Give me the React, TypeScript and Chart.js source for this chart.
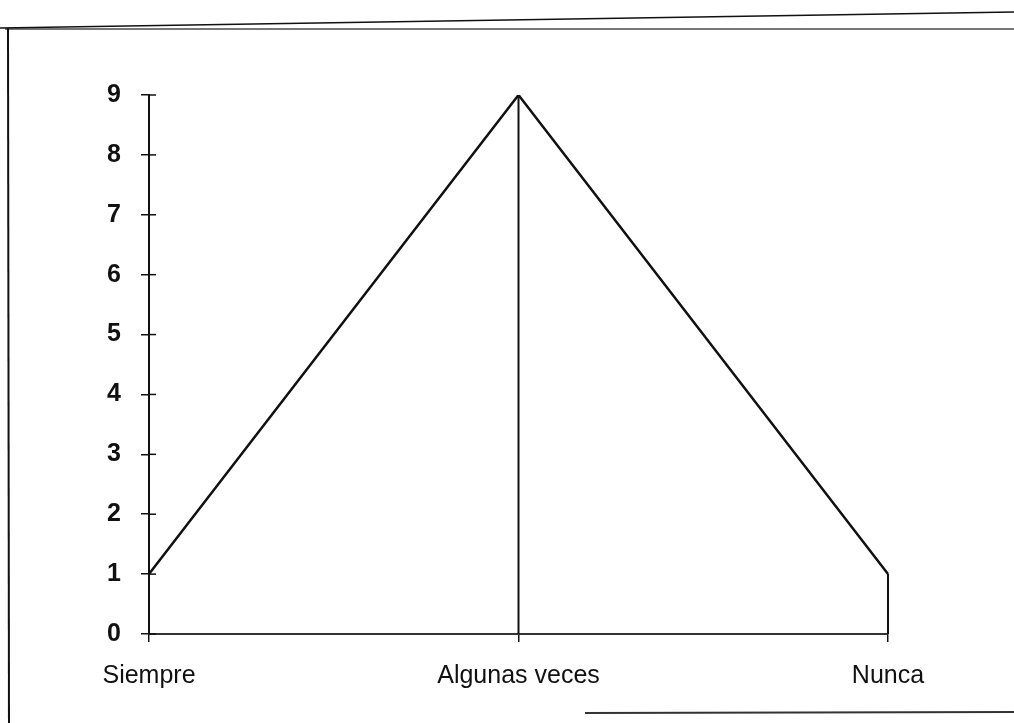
import React, { useEffect, useRef } from "react";
import { Chart, registerables } from "chart.js";

Chart.register(...registerables);

const categories = ["Siempre", "Algunas veces", "Nunca"];
const values = [1, 9, 1];
const yTicks = [0, 1, 2, 3, 4, 5, 6, 7, 8, 9];

const INK = "#111111";

const dropLines = {
  id: "dropLines",
  afterDatasetsDraw(chart: any) {
    const { ctx, chartArea, scales } = chart;
    const meta = chart.getDatasetMeta(0);
    ctx.save();
    ctx.strokeStyle = INK;
    ctx.lineWidth = 2;
    meta.data.forEach((pt: any) => {
      ctx.beginPath();
      ctx.moveTo(pt.x, pt.y);
      ctx.lineTo(pt.x, chartArea.bottom);
      ctx.stroke();
    });
    // inner halves of y ticks (ticks cross the axis)
    const y = scales.y;
    ctx.lineWidth = 1.5;
    yTicks.forEach((v) => {
      const py = y.getPixelForValue(v);
      ctx.beginPath();
      ctx.moveTo(chartArea.left, py);
      ctx.lineTo(chartArea.left + 7, py);
      ctx.stroke();
    });
    ctx.restore();
  },
};

const frame = {
  id: "frame",
  beforeDraw(chart: any) {
    const { ctx, width, height } = chart;
    ctx.save();
    ctx.fillStyle = "#ffffff";
    ctx.fillRect(0, 0, width, height);
    ctx.strokeStyle = "#777777";
    ctx.lineWidth = 2;
    ctx.beginPath();
    ctx.moveTo(5, 29);
    ctx.lineTo(width, 29);
    ctx.stroke();
    ctx.strokeStyle = INK;
    ctx.lineWidth = 1.5;
    ctx.beginPath();
    ctx.moveTo(0, 28);
    ctx.lineTo(width, 12);
    ctx.stroke();
    ctx.lineWidth = 2;
    ctx.beginPath();
    ctx.moveTo(8, 28);
    ctx.lineTo(9, height);
    ctx.stroke();
    ctx.strokeStyle = "#333333";
    ctx.beginPath();
    ctx.moveTo(585, 713);
    ctx.lineTo(width, 712);
    ctx.stroke();
    ctx.restore();
  },
};

export default function App() {
  const ref = useRef<HTMLCanvasElement | null>(null);
  useEffect(() => {
    if (!ref.current) return;
    const chart = new Chart(ref.current, {
      type: "line",
      data: {
        labels: categories,
        datasets: [
          {
            data: values,
            borderColor: INK,
            borderWidth: 2.5,
            pointRadius: 0,
            tension: 0,
            fill: false,
          },
        ],
      },
      options: {
        animation: false,
        responsive: false,
        maintainAspectRatio: false,
        layout: { padding: { left: 0, right: 126, top: 95, bottom: 13 } },
        plugins: { legend: { display: false }, tooltip: { enabled: false } },
        scales: {
          x: {
            type: "category",
            offset: false,
            border: { display: true, color: "#333333", width: 2 },
            grid: { display: true, drawOnChartArea: false, drawTicks: true, tickLength: 8, color: INK, lineWidth: 1.5 },
            ticks: {
              color: INK,
              padding: 19,
              maxRotation: 0,
              autoSkip: false,
              font: { family: "'Liberation Sans', Arial, sans-serif", size: 25 },
            },
          },
          y: {
            type: "linear",
            min: 0,
            max: 9,
            afterFit: (s: any) => {
              s.width = 149;
            },
            afterBuildTicks: (s: any) => {
              s.ticks = yTicks.map((v) => ({ value: v }));
            },
            border: { display: true, color: INK, width: 2 },
            grid: { display: true, drawOnChartArea: false, drawTicks: true, tickLength: 8, color: INK, lineWidth: 1.5 },
            ticks: {
              color: INK,
              padding: 20,
              font: { family: "'Liberation Sans', Arial, sans-serif", size: 25, weight: "bold" },
            },
          },
        },
      },
      plugins: [frame, dropLines],
    });
    return () => chart.destroy();
  }, []);
  return (
    <div style={{ position: "fixed", left: 0, top: 0, width: 1014, height: 723 }}>
      <canvas ref={ref} width={1014} height={723} style={{ width: 1014, height: 723 }} />
    </div>
  );
}
